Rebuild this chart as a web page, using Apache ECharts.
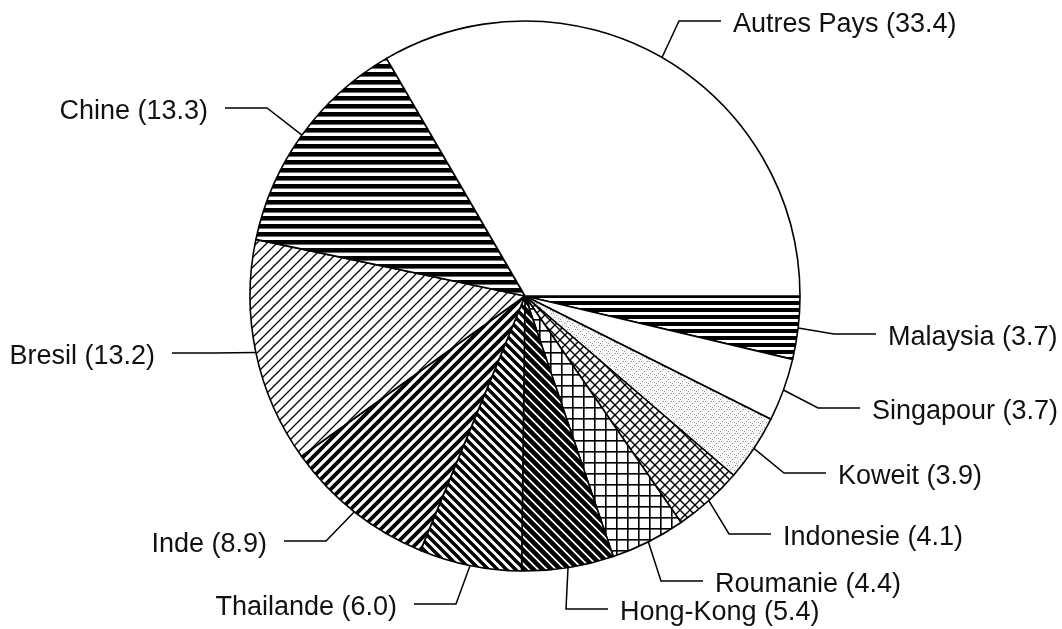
<!DOCTYPE html>
<html>
<head>
<meta charset="utf-8">
<script src="https://cdn.jsdelivr.net/npm/echarts@6/dist/echarts.min.js"></script>
<style>
html, body { margin: 0; padding: 0; background: #fff; }
#main { width: 1062px; height: 629px; }
</style>
</head>
<body>
<div id="main"></div>
<script>
// données (pourcentages)
var countries = ['Malaysia', 'Singapour', 'Koweit', 'Indonesie', 'Roumanie', 'Hong-Kong',
  'Thailande', 'Inde', 'Bresil', 'Chine', 'Autres Pays'];
var shares = [3.7, 3.7, 3.9, 4.1, 4.4, 5.4, 6.0, 8.9, 13.2, 13.3, 33.4];

// position du texte de chaque étiquette : bord du texte (x), centre (y)
var labelPos = [[888, 338], [872, 412], [838, 477], [783, 538], [715, 585], [620, 613],
  [397, 608], [267, 545], [155, 357], [208, 112], [733, 25]];

var cx = 525, cy = 296, R = 275;

// motifs de hachure
function hatch(size, draw, bg) {
  var c = document.createElement('canvas');
  c.width = c.height = size;
  var g = c.getContext('2d');
  g.fillStyle = bg || '#fff';
  g.fillRect(0, 0, size, size);
  g.strokeStyle = '#000';
  g.fillStyle = '#000';
  draw(g, size);
  return { image: c, repeat: 'repeat' };
}
function horiz(thick) {
  return function (g, s) { g.fillRect(0, 0, s, thick); };
}
// lignes prolongées au-delà de la tuile pour éviter les coupures aux bords
function slash(w) {
  return function (g, s) {
    g.lineWidth = w;
    g.beginPath();
    for (var k = -s; k <= s; k += s) { g.moveTo(k - s, 2 * s); g.lineTo(k + 2 * s, -s); }
    g.stroke();
  };
}
function backslash(w) {
  return function (g, s) {
    g.lineWidth = w;
    g.beginPath();
    for (var k = -s; k <= s; k += s) { g.moveTo(k - s, -s); g.lineTo(k + 2 * s, 2 * s); }
    g.stroke();
  };
}
function cross(w) {
  return function (g, s) { slash(w)(g, s); backslash(w)(g, s); };
}
function grid(w) {
  return function (g, s) { g.fillRect(0, 0, s, w); g.fillRect(0, 0, w, s); };
}
function dots(g, s) {
  g.fillStyle = '#999';
  var pts = [[1, 1], [4, 3], [2, 5], [6, 6], [7, 1], [0, 7]];
  pts.forEach(function (p) { g.fillRect(p[0], p[1], 1, 1); });
}

var fills = [
  hatch(7, horiz(4)),        // Malaysia
  '#fff',                    // Singapour
  hatch(8, dots, '#f7f7f7'), // Koweit
  hatch(10, cross(1.4)),     // Indonesie
  hatch(11, grid(1.6)),      // Roumanie
  hatch(9, backslash(4.6)),  // Hong-Kong
  hatch(9, backslash(3.4)),  // Thailande
  hatch(10, slash(3.8)),     // Inde
  hatch(10, slash(1.3)),     // Bresil
  hatch(8, horiz(4.6)),      // Chine
  '#fff'                     // Autres Pays
];

var data = countries.map(function (n, i) {
  return { name: n, value: shares[i], itemStyle: { color: fills[i] } };
});

var chart = echarts.init(document.getElementById('main'));
chart.setOption({
  animation: false,
  backgroundColor: '#fff',
  series: [{
    type: 'pie',
    center: [cx, cy],
    radius: R,
    startAngle: 0,
    clockwise: true,
    avoidLabelOverlap: false,
    minShowLabelAngle: 0,
    data: data,
    itemStyle: { borderColor: '#000', borderWidth: 1.6 },
    label: {
      show: true,
      position: 'outside',
      color: '#111',
      fontFamily: 'Liberation Sans',
      fontSize: 27,
      formatter: function (p) { return p.name + ' (' + p.value.toFixed(1) + ')'; }
    },
    labelLine: { show: true, length: 10, length2: 10, lineStyle: { color: '#000', width: 1.5 } },
    labelLayout: function (p) {
      var pos = labelPos[p.dataIndex];
      var right = pos[0] > cx;
      var ly = pos[1] - 4;
      var end = right ? pos[0] - 12 : pos[0] + 17;
      var elbow = right ? pos[0] - 54 : pos[0] + 59;
      return {
        x: pos[0], y: pos[1],
        align: right ? 'left' : 'right',
        verticalAlign: 'middle',
        labelLinePoints: [p.labelLinePoints[0], [elbow, ly], [end, ly]]
      };
    },
    emphasis: { disabled: true }
  }]
});
</script>
</body>
</html>
